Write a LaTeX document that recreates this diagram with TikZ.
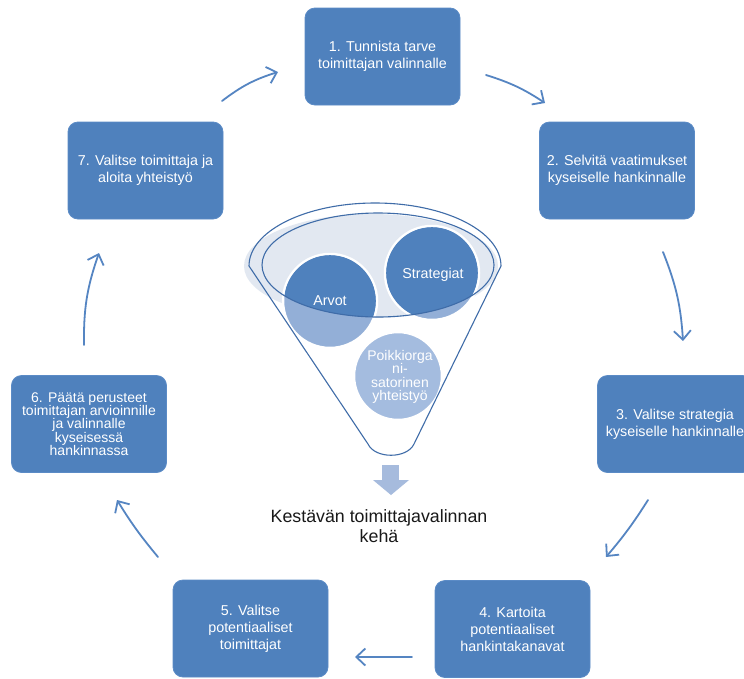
\documentclass[tikz,border=0pt]{standalone}
\usepackage{fontspec}
\setmainfont{Liberation Sans}
\usetikzlibrary{arrows.meta}
\definecolor{boxblue}{HTML}{4F81BD}
\definecolor{boxedge}{HTML}{5B8BC6}
\definecolor{arrowblue}{HTML}{5585C2}
\definecolor{funnelline}{HTML}{3F6CA8}
\definecolor{funnelfill}{HTML}{E2E8F1}
\definecolor{circlelight}{HTML}{93AFD7}
\definecolor{poikki}{HTML}{A4BCDF}
\definecolor{spout}{HTML}{A6BBDD}
\begin{document}
\begin{tikzpicture}[x=1pt,y=-1pt,
  stepbox/.style={rectangle, rounded corners=10pt, fill=boxblue, draw=boxedge, line width=0.8pt,
    minimum width=155pt, minimum height=97pt, text=white, align=center,
    font=\fontsize{14.3}{17}\selectfont, inner sep=1pt},
  cyc/.style={draw=arrowblue, line width=1.8pt, line cap=round,
    -{Straight Barb[length=9pt,width=17pt,line width=1.8pt]}},
  ball/.style={circle, draw=white, line width=2.5pt, inner sep=0pt},
  balltext/.style={text=white, align=center, font=\fontsize{14.3}{14}\selectfont}]
\clip (0,0) rectangle (744,678);
\fill[white] (0,0) rectangle (744,678);

% step boxes
\node[stepbox] (b1) at (382.5,56.5) {1. Tunnista tarve\\toimittajan valinnalle};
\node[stepbox] (b2) at (617,170.5) {2. Selvitä vaatimukset\\kyseiselle hankinnalle};
\node[stepbox] (b3) at (675,424) {3. Valitse strategia\\kyseiselle hankinnalle};
\node[stepbox] (b4) at (512.5,629) {4. Kartoita\\potentiaaliset\\hankintakanavat};
\node[stepbox] (b5) at (250.5,628.5) {5. Valitse\\potentiaaliset\\toimittajat};
\node[stepbox, font=\fontsize{14}{13.3}\selectfont] (b6) at (89,424) {6. Päätä perusteet\\toimittajan arvioinnille\\ja valinnalle\\kyseisessä\\hankinnassa};
\node[stepbox] (b7) at (145.5,170.5) {7. Valitse toimittaja ja\\aloita yhteistyö};

% cycle arrows
\coordinate (a1s) at (222,101); \coordinate (a1e) at (278,72);
\coordinate (a2s) at (486,75);  \coordinate (a2e) at (545,103);
\coordinate (a3s) at (663,252); \coordinate (a3e) at (683,341);
\coordinate (a4s) at (648,500); \coordinate (a4e) at (606,557);
\coordinate (a5s) at (412,657); \coordinate (a5e) at (355,657);
\coordinate (a6s) at (158,557); \coordinate (a6e) at (117,500);
\coordinate (a7s) at (84,345);  \coordinate (a7e) at (99,253);
\draw[cyc] (a1s) to[bend left=10] (a1e);
\draw[cyc] (a2s) to[bend left=8] (a2e);
\draw[cyc] (a3s) to[bend left=9] (a3e);
\draw[cyc] (a4s) to[bend left=4] (a4e);
\draw[cyc] (a5s) -- (a5e);
\draw[cyc] (a6s) to[bend left=4] (a6e);
\draw[cyc] (a7s) to[bend left=10] (a7e);

% funnel top fill
\fill[funnelfill] (371,266) ellipse[x radius=127, y radius=52];

% circles
\node[ball, fill=circlelight, minimum size=94pt] (arvot) at (330,301) {};
\node[ball, fill=circlelight, minimum size=94pt] (strat) at (432,273) {};
\node[ball, fill=poikki, minimum size=88pt] (poikki) at (398,376) {};
\begin{scope}
  \clip (378,265) ellipse[x radius=116, y radius=52];
  \fill[boxblue] (arvot.center) circle[radius=45.8];
  \fill[boxblue] (strat.center) circle[radius=45.8];
\end{scope}

% funnel outlines
\draw[funnelline, line width=1.1pt] (378,265) ellipse[x radius=116, y radius=52];
\draw[funnelline, line width=1.1pt]
  (249,266) arc[start angle=180, end angle=360, x radius=126, y radius=63]
  -- (414,444) .. controls (407,459) and (375,459) .. (368,444) -- cycle;

% labels in circles
\node[balltext] (arvotlbl) at (330,301) {Arvot};
\node[balltext] (stratlbl) at (433,275) {Strategiat};
\node[balltext, font=\fontsize{14}{13.3}\selectfont] (poikkilbl) at (400,377) {Poikkiorga\\ni-\\satorinen\\yhteistyö};

% spout arrow
\fill[spout] (382,465) rectangle (399,481);
\fill[spout] (373,480) -- (409,480) -- (391,495) -- cycle;

% title
\node[align=center, text=black!90, font=\fontsize{17.8}{20}\selectfont] (title) at (379,526) {Kestävän toimittajavalinnan\\kehä};
\end{tikzpicture}
\end{document}
